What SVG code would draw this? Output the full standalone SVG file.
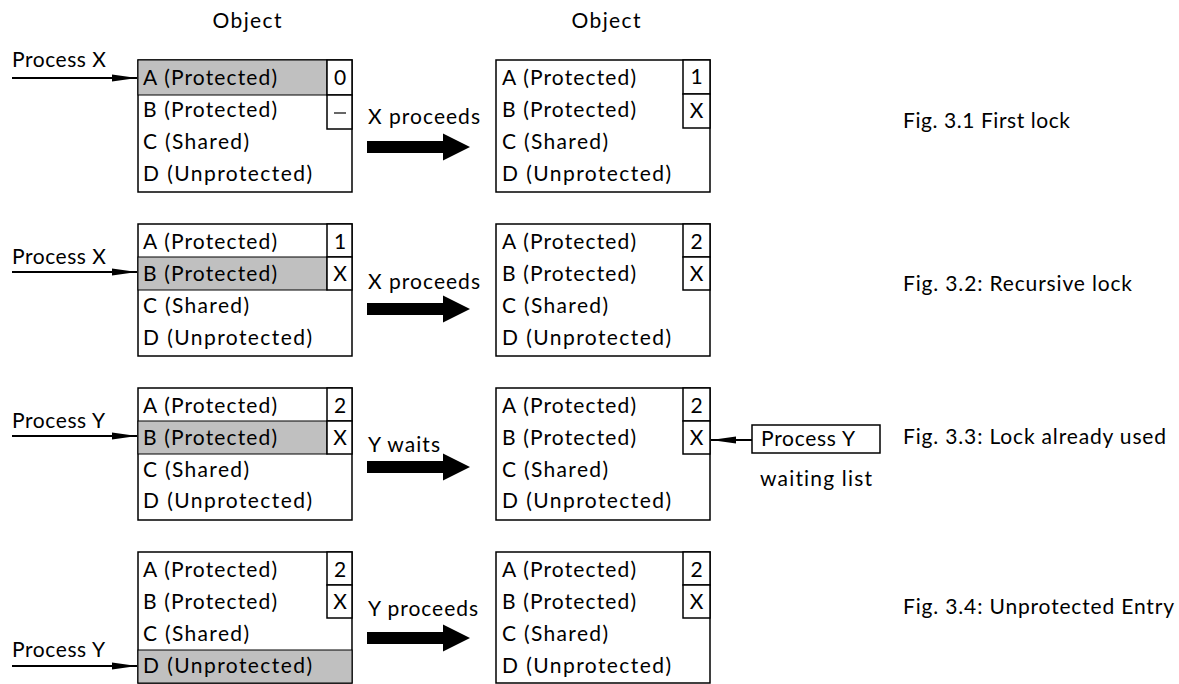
<svg xmlns="http://www.w3.org/2000/svg" width="1179" height="684" viewBox="0 0 1179 684">
<style>
text{font-family:Lato,"Liberation Sans",Arial,sans-serif;font-size:21px;fill:#000;font-variant-ligatures:none;}
.box{fill:#fff;stroke:#000;stroke-width:1.5;}
.cell{fill:#fff;stroke:#000;stroke-width:1.5;}
.hl{fill:#c0c0c0;stroke:#000;stroke-width:1;}
.thin{stroke:#000;stroke-width:2;fill:none;}
.c{text-anchor:middle;}
</style>
<defs>
<marker id="ah" markerUnits="userSpaceOnUse" markerWidth="26" markerHeight="10" refX="25" refY="5" orient="auto">
<path d="M0,1.5 L25,5 L0,8.5 Z" fill="#000"/>
</marker>
<path id="big" d="M0,-6 L76,-6 L76,-13.5 L103,0 L76,13.5 L76,6 L0,6 Z" fill="#000"/>
</defs>

<text id="obj1" x="247" y="28" class="c" textLength="69" lengthAdjust="spacing">Object</text>
<text id="obj2" x="606" y="28" class="c" textLength="69" lengthAdjust="spacing">Object</text>

<!-- Row 1 -->
<g id="r1-left">
<rect class="box" x="138" y="60" width="214" height="132"/>
<rect class="hl" x="138" y="60" width="189" height="35"/>
<rect class="cell" x="327" y="60" width="25" height="35"/>
<rect class="cell" x="327" y="95" width="25" height="34"/>
<text x="340" y="85" class="c">0</text>
<line x1="334" y1="113" x2="346" y2="113" stroke="#000" stroke-width="1.2"/>
<text x="143" y="85" textLength="134" lengthAdjust="spacing">A (Protected)</text>
<text x="143" y="117" textLength="134" lengthAdjust="spacing">B (Protected)</text>
<text x="143" y="149" textLength="106" lengthAdjust="spacing">C (Shared)</text>
<text x="143" y="181" textLength="169" lengthAdjust="spacing">D (Unprotected)</text>
</g>
<g id="r1-right">
<rect class="box" x="496" y="60" width="214" height="132"/>
<rect class="cell" x="683" y="60" width="27" height="34"/>
<rect class="cell" x="683" y="94" width="27" height="34"/>
<text x="696.5" y="84" class="c">1</text>
<text x="696.5" y="118" class="c">X</text>
<text x="502" y="85" textLength="134" lengthAdjust="spacing">A (Protected)</text>
<text x="502" y="117" textLength="134" lengthAdjust="spacing">B (Protected)</text>
<text x="502" y="149" textLength="106" lengthAdjust="spacing">C (Shared)</text>
<text x="502" y="181" textLength="169" lengthAdjust="spacing">D (Unprotected)</text>
</g>
<text id="p1" x="12" y="67" textLength="94" lengthAdjust="spacing">Process X</text>
<text id="a1" x="368" y="124" textLength="112" lengthAdjust="spacing">X proceeds</text>
<text id="f1" x="903" y="128" textLength="167" lengthAdjust="spacing">Fig. 3.1 First lock</text>

<!-- Row 2 -->
<g id="r2-left">
<rect class="box" x="138" y="224" width="214" height="132"/>
<rect class="hl" x="138" y="257" width="189" height="33"/>
<rect class="cell" x="327" y="224" width="25" height="33"/>
<rect class="cell" x="327" y="257" width="25" height="33"/>
<text x="340" y="249" class="c">1</text>
<text x="340" y="281" class="c">X</text>
<text x="143" y="249" textLength="134" lengthAdjust="spacing">A (Protected)</text>
<text x="143" y="281" textLength="134" lengthAdjust="spacing">B (Protected)</text>
<text x="143" y="313" textLength="106" lengthAdjust="spacing">C (Shared)</text>
<text x="143" y="345" textLength="169" lengthAdjust="spacing">D (Unprotected)</text>
</g>
<g id="r2-right">
<rect class="box" x="496" y="224" width="214" height="132"/>
<rect class="cell" x="683" y="224" width="27" height="33"/>
<rect class="cell" x="683" y="257" width="27" height="33"/>
<text x="696.5" y="249" class="c">2</text>
<text x="696.5" y="281" class="c">X</text>
<text x="502" y="249" textLength="134" lengthAdjust="spacing">A (Protected)</text>
<text x="502" y="281" textLength="134" lengthAdjust="spacing">B (Protected)</text>
<text x="502" y="313" textLength="106" lengthAdjust="spacing">C (Shared)</text>
<text x="502" y="345" textLength="169" lengthAdjust="spacing">D (Unprotected)</text>
</g>
<text id="p2" x="12" y="264" textLength="94" lengthAdjust="spacing">Process X</text>
<text id="a2" x="368" y="289" textLength="112" lengthAdjust="spacing">X proceeds</text>
<text id="f2" x="903" y="291" textLength="229" lengthAdjust="spacing">Fig. 3.2: Recursive lock</text>

<!-- Row 3 -->
<g id="r3-left">
<rect class="box" x="138" y="388" width="214" height="132"/>
<rect class="hl" x="138" y="421" width="189" height="33"/>
<rect class="cell" x="327" y="388" width="25" height="33"/>
<rect class="cell" x="327" y="421" width="25" height="33"/>
<text x="340" y="413" class="c">2</text>
<text x="340" y="445" class="c">X</text>
<text x="143" y="413" textLength="134" lengthAdjust="spacing">A (Protected)</text>
<text x="143" y="445" textLength="134" lengthAdjust="spacing">B (Protected)</text>
<text x="143" y="477" textLength="106" lengthAdjust="spacing">C (Shared)</text>
<text x="143" y="508" textLength="169" lengthAdjust="spacing">D (Unprotected)</text>
</g>
<g id="r3-right">
<rect class="box" x="496" y="388" width="214" height="132"/>
<rect class="cell" x="683" y="388" width="27" height="33"/>
<rect class="cell" x="683" y="421" width="27" height="33"/>
<text x="696.5" y="413" class="c">2</text>
<text x="696.5" y="445" class="c">X</text>
<text x="502" y="413" textLength="134" lengthAdjust="spacing">A (Protected)</text>
<text x="502" y="445" textLength="134" lengthAdjust="spacing">B (Protected)</text>
<text x="502" y="477" textLength="106" lengthAdjust="spacing">C (Shared)</text>
<text x="502" y="508" textLength="169" lengthAdjust="spacing">D (Unprotected)</text>
</g>
<g id="waiting">
<rect class="box" x="752" y="425" width="128" height="28"/>
<text x="761" y="446" textLength="94" lengthAdjust="spacing">Process Y</text>
<text x="760" y="486" textLength="112" lengthAdjust="spacing">waiting list</text>
</g>
<text id="p3" x="12" y="428" textLength="93" lengthAdjust="spacing">Process Y</text>
<text id="a3" x="368" y="452" textLength="72" lengthAdjust="spacing">Y waits</text>
<text id="f3" x="903" y="444" textLength="263" lengthAdjust="spacing">Fig. 3.3: Lock already used</text>

<!-- Row 4 -->
<g id="r4-left">
<rect class="box" x="138" y="552" width="214" height="131"/>
<rect class="hl" x="138" y="650" width="214" height="33"/>
<rect class="cell" x="327" y="552" width="25" height="33"/>
<rect class="cell" x="327" y="585" width="25" height="33"/>
<text x="340" y="577" class="c">2</text>
<text x="340" y="609" class="c">X</text>
<text x="143" y="577" textLength="134" lengthAdjust="spacing">A (Protected)</text>
<text x="143" y="609" textLength="134" lengthAdjust="spacing">B (Protected)</text>
<text x="143" y="641" textLength="106" lengthAdjust="spacing">C (Shared)</text>
<text x="143" y="673" textLength="169" lengthAdjust="spacing">D (Unprotected)</text>
</g>
<g id="r4-right">
<rect class="box" x="496" y="552" width="214" height="131"/>
<rect class="cell" x="683" y="552" width="27" height="33"/>
<rect class="cell" x="683" y="585" width="27" height="33"/>
<text x="696.5" y="577" class="c">2</text>
<text x="696.5" y="609" class="c">X</text>
<text x="502" y="577" textLength="134" lengthAdjust="spacing">A (Protected)</text>
<text x="502" y="609" textLength="134" lengthAdjust="spacing">B (Protected)</text>
<text x="502" y="641" textLength="106" lengthAdjust="spacing">C (Shared)</text>
<text x="502" y="673" textLength="169" lengthAdjust="spacing">D (Unprotected)</text>
</g>
<text id="p4" x="12" y="657" textLength="93" lengthAdjust="spacing">Process Y</text>
<text id="a4" x="368" y="616" textLength="110" lengthAdjust="spacing">Y proceeds</text>
<text id="f4" x="903" y="614" textLength="271" lengthAdjust="spacing">Fig. 3.4: Unprotected Entry</text>

<g id="connectors">
<line class="thin" x1="12" y1="78" x2="137" y2="78" marker-end="url(#ah)"/>
<line class="thin" x1="12" y1="272" x2="137" y2="272" marker-end="url(#ah)"/>
<line class="thin" x1="12" y1="436" x2="137" y2="436" marker-end="url(#ah)"/>
<line class="thin" x1="12" y1="666" x2="137" y2="666" marker-end="url(#ah)"/>
<line class="thin" x1="752" y1="440" x2="711" y2="440" marker-end="url(#ah)"/>
<use href="#big" x="367" y="147"/>
<use href="#big" x="367" y="309"/>
<use href="#big" x="367" y="467"/>
<use href="#big" x="367" y="638"/>
</g>
</svg>
